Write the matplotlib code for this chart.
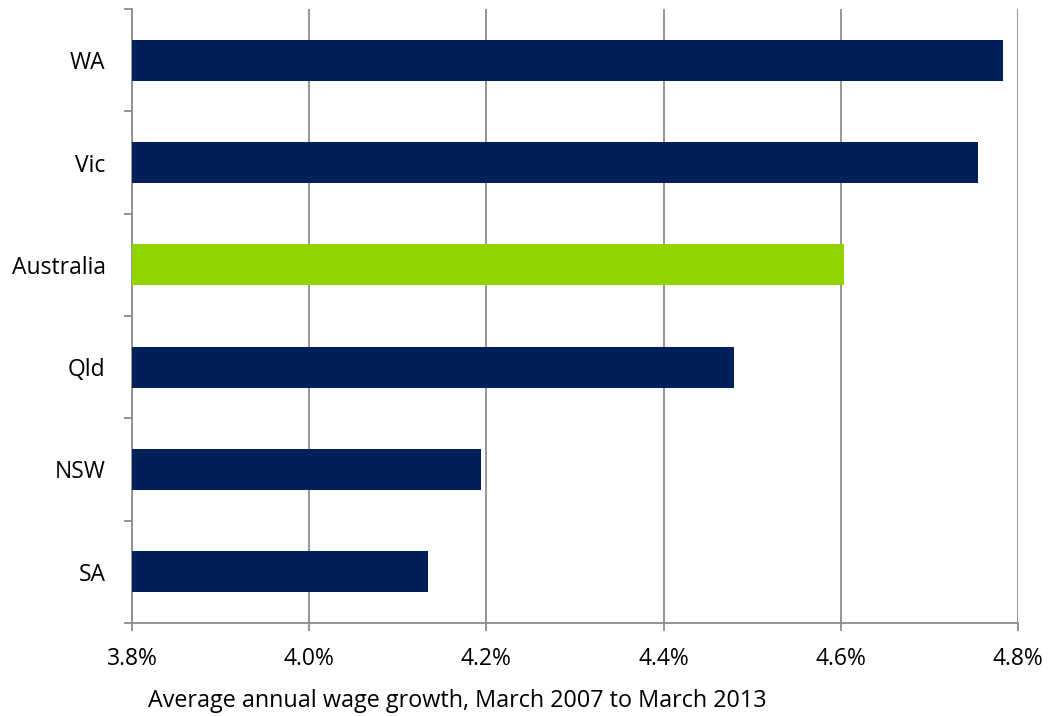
import matplotlib
matplotlib.use("Agg")
import matplotlib.pyplot as plt
from matplotlib.ticker import FuncFormatter, MultipleLocator, FixedLocator

categories = ["SA", "NSW", "Qld", "Australia", "Vic", "WA"]
values = [4.134, 4.194, 4.479, 4.604, 4.755, 4.783]
highlight = "Australia"
xlabel = "Average annual wage growth, March 2007 to March 2013"

navy = "#001F5B"
green = "#92D400"

plt.rcParams['font.family'] = ['Open Sans', 'DejaVu Sans']

fig = plt.figure(figsize=(10.55, 7.16), dpi=100)
ax = fig.add_axes([132/1055, 1 - 623/716, (1018-132)/1055, (623-9)/716])

colors = [green if c == highlight else navy for c in categories]
y = list(range(len(categories)))
ax.barh(y, [v - 3.8 for v in values], left=3.8, height=0.4, color=colors, zorder=3)

ax.set_xlim(3.8, 4.8)
ax.set_ylim(-0.5, len(categories) - 0.5)
ax.xaxis.set_major_locator(MultipleLocator(0.2))
ax.xaxis.set_major_formatter(FuncFormatter(lambda v, p: f"{v:.1f}%"))
ax.grid(axis='x', color='#8C8C8C', linewidth=1.3, zorder=0)

ax.set_yticks(y)
ax.set_yticklabels(categories)
ax.yaxis.set_minor_locator(FixedLocator([i - 0.5 for i in range(len(categories) + 1)]))
ax.tick_params(axis='y', which='major', length=0, pad=19, labelsize=16.5)
ax.tick_params(axis='y', which='minor', length=6, width=1.3, color='#8C8C8C')
ax.tick_params(axis='x', length=6, width=1.3, color='#8C8C8C', labelsize=16.5, pad=11)

for s in ['top', 'right']:
    ax.spines[s].set_visible(False)
for s in ['left', 'bottom']:
    ax.spines[s].set_color('#8C8C8C')
    ax.spines[s].set_linewidth(1.3)

fig.text(457/1055, 1 - 701/716, xlabel, ha='center', va='center', fontsize=16.8)

fig.savefig("out.png", dpi=100)
